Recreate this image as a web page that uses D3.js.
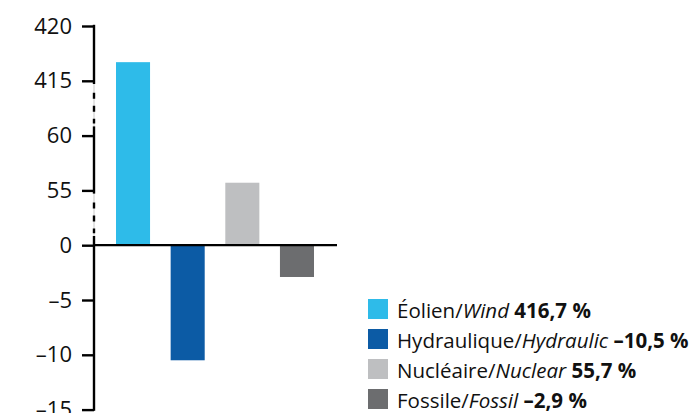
<!DOCTYPE html>
<html>
<head>
<meta charset="utf-8">
<script src="https://cdn.jsdelivr.net/npm/d3@7"></script>
<style>
  body { margin: 0; background: #fff; }
  svg text { font-family: "Open Sans", "Noto Sans", sans-serif; fill: #111; }
</style>
</head>
<body>
<div id="chart"></div>
<script>
// data
const categories = ["Éolien", "Hydraulique", "Nucléaire", "Fossile"];
const categoriesEn = ["Wind", "Hydraulic", "Nuclear", "Fossil"];
const values = [416.7, -10.5, 55.7, -2.9];
const colors = ["#2ebbe9", "#0c5ba5", "#bebfc1", "#6c6d6f"];
const tickValues = [-15, -10, -5, 0, 55, 60, 415, 420];
const breakDomain = [-15, 0, 55, 60, 415, 420]; // broken axis pieces

const width = 696, height = 413;

const svg = d3.select("#chart")
    .append("svg")
    .attr("width", width)
    .attr("height", height);

const fr = d3.formatLocale({decimal: ",", thousands: " ", grouping: [3], currency: ["", ""], minus: "\u2013"});
const fmtTick = fr.format("d");
const fmtVal = fr.format(".1f");

// piecewise scale, every tick step gets the same height
const yTop = 26, step = 54.8;
const y = d3.scaleLinear()
    .domain(breakDomain)
    .range([yTop + 7 * step, yTop + 4 * step, yTop + 3 * step, yTop + 2 * step, yTop + step, yTop]);

const axisX = 94;
const x = d3.scaleBand()
    .domain(categories)
    .range([105.7, 324.3])
    .paddingInner(0.377)
    .paddingOuter(0.1885);

// bars
svg.selectAll(".bar")
    .data(values)
    .enter()
    .append("rect")
    .attr("class", "bar")
    .attr("x", (d, i) => x(categories[i]))
    .attr("width", x.bandwidth())
    .attr("y", d => y(Math.max(0, d)))
    .attr("height", d => Math.abs(y(d) - y(0)))
    .attr("fill", (d, i) => colors[i]);

// zero line
svg.append("line")
    .attr("x1", axisX)
    .attr("x2", 337)
    .attr("y1", y(0))
    .attr("y2", y(0))
    .attr("stroke", "#000")
    .attr("stroke-width", 2.2);

// axis ticks + labels
const yAxis = svg.append("g")
    .attr("transform", `translate(${axisX},0)`)
    .call(d3.axisLeft(y).tickValues(tickValues).tickSize(12).tickPadding(10).tickFormat(fmtTick));
yAxis.select(".domain").remove();
yAxis.selectAll(".tick line").attr("stroke", "#000").attr("stroke-width", 2.4);
yAxis.selectAll(".tick text")
    .attr("font-size", 22)
    .attr("font-family", "'Open Sans', sans-serif")
    .attr("fill", "#111");

// axis line: solid pieces with dashed breaks between
const solid = [[y(420), y(415) + 2], [y(60) - 8, y(55) + 2], [y(0) - 8, y(-15)]];
const dashed = [[y(415) + 2, y(60) - 8], [y(55) + 2, y(0) - 8]];

svg.selectAll(".brk-bg")
    .data(dashed)
    .enter()
    .append("line")
    .attr("x1", axisX).attr("x2", axisX)
    .attr("y1", d => d[0]).attr("y2", d => d[1])
    .attr("stroke", "#c8c8c8")
    .attr("stroke-width", 1);

svg.selectAll(".brk")
    .data(dashed)
    .enter()
    .append("line")
    .attr("x1", axisX).attr("x2", axisX)
    .attr("y1", d => d[0] + 10).attr("y2", d => d[1] - 4)
    .attr("stroke", "#000")
    .attr("stroke-width", 2.4)
    .attr("stroke-dasharray", "6,7");

svg.selectAll(".axis-seg")
    .data(solid)
    .enter()
    .append("line")
    .attr("x1", axisX).attr("x2", axisX)
    .attr("y1", d => d[0] - 1.2).attr("y2", d => d[1] + 1.2)
    .attr("stroke", "#000")
    .attr("stroke-width", 2.4);

// legend
const legend = svg.append("g").attr("transform", "translate(368,299)");
const rows = legend.selectAll(".row")
    .data(categories)
    .enter()
    .append("g")
    .attr("transform", (d, i) => `translate(0,${i * 30})`);

rows.append("rect")
    .attr("width", 20)
    .attr("height", 20)
    .attr("fill", (d, i) => colors[i]);

const txt = rows.append("text")
    .attr("x", 29)
    .attr("y", 19)
    .attr("font-size", 20.5);
txt.append("tspan").text(d => d + "/");
txt.append("tspan").attr("font-style", "italic").text((d, i) => categoriesEn[i]);
txt.append("tspan").attr("font-weight", "bold").text((d, i) => " " + fmtVal(values[i]) + " %");
</script>
</body>
</html>
